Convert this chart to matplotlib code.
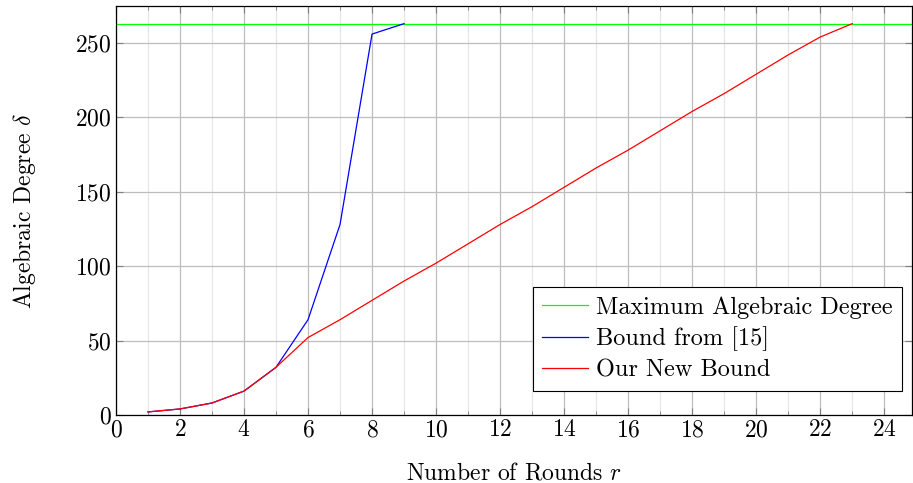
import matplotlib
matplotlib.use('Agg')
import matplotlib.pyplot as plt
from matplotlib.ticker import MultipleLocator

plt.rcParams['font.family'] = 'serif'
plt.rcParams['font.serif'] = ['cmr10']
plt.rcParams['mathtext.fontset'] = 'cm'
plt.rcParams['axes.formatter.use_mathtext'] = True

max_degree = 263
rounds_old = [1, 2, 3, 4, 5, 6, 7, 8, 9]
bound_old = [2, 4, 8, 16, 32, 64, 128, 256, 263]
rounds_new = list(range(1, 24))
bound_new = [2, 4, 8, 16, 32, 52, 64, 77, 90, 102, 115, 128, 140, 153,
             166, 178, 191, 204, 216, 229, 242, 254, 263]

fig = plt.figure(figsize=(9.13, 4.83), dpi=100)
ax = fig.add_axes([0.127, 0.141, 0.872, 0.847])

ax.axhline(max_degree, color='#00ff00', lw=0.9, label='Maximum Algebraic Degree')
ax.plot(rounds_old, bound_old, color='blue', lw=0.9, label='Bound from [15]')
ax.plot(rounds_new, bound_new, color='red', lw=0.9, label='Our New Bound')

ax.set_xlim(0, 24.87)
ax.set_ylim(0, 275)
ax.xaxis.set_major_locator(MultipleLocator(2))
ax.xaxis.set_minor_locator(MultipleLocator(1))
ax.yaxis.set_major_locator(MultipleLocator(50))
ax.grid(which='major', color='#bdbdbd', lw=0.9)
ax.grid(which='minor', axis='x', color='#e6e6e6', lw=0.9)
ax.set_axisbelow(True)
ax.tick_params(which='both', direction='in', top=True, right=True,
               color='#808080', labelsize=17, pad=3)
ax.tick_params(which='major', length=5)
ax.tick_params(which='minor', length=3)
for s in ax.spines.values():
    s.set_linewidth(0.9)

ax.set_xlabel('Number of Rounds $r$', fontsize=17, labelpad=15)
ax.set_ylabel(r'Algebraic Degree $\delta$', fontsize=17, labelpad=27)

leg = ax.legend(loc='lower right', bbox_to_anchor=(0.9874, 0.0587),
                borderaxespad=0, fontsize=17.5,
                fancybox=False, framealpha=1, edgecolor='black',
                handlelength=1.9, handletextpad=0.3, borderpad=0.4,
                labelspacing=0.32)
leg.get_frame().set_linewidth(0.8)

fig.savefig('out.png', dpi=100)
